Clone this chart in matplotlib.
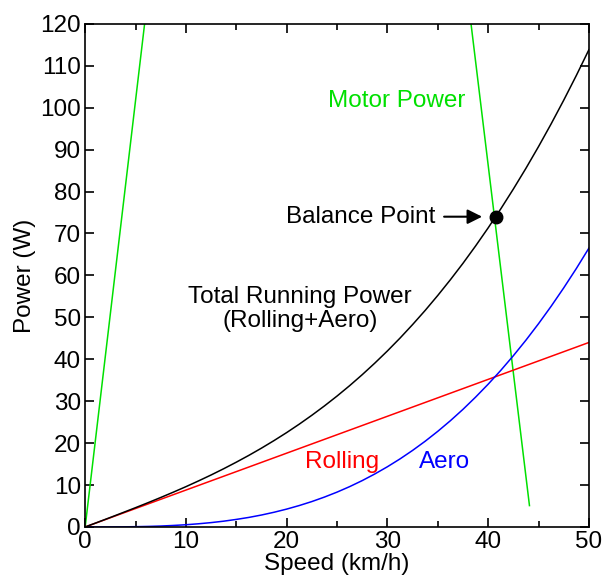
import numpy as np
import matplotlib
matplotlib.use("Agg")
import matplotlib.pyplot as plt
from matplotlib.ticker import MultipleLocator

plt.rcParams['font.family'] = ['Liberation Sans', 'DejaVu Sans']

# values (speed in km/h, power in W)
speed = [0, 1.25, 2.5, 3.75, 5, 6.25, 7.5, 8.75, 10, 11.25, 12.5, 13.75,
         15, 16.25, 17.5, 18.75, 20, 21.25, 22.5, 23.75, 25, 26.25, 27.5,
         28.75, 30, 31.25, 32.5, 33.75, 35, 36.25, 37.5, 38.75, 40, 41.25,
         42.5, 43.75, 45, 46.25, 47.5, 48.75, 50]
rolling = [0, 1.1, 2.2, 3.3, 4.4, 5.5, 6.6, 7.7, 8.8, 9.9, 11.0, 12.1,
           13.2, 14.3, 15.4, 16.5, 17.6, 18.7, 19.8, 20.9, 22.0, 23.1, 24.2,
           25.3, 26.4, 27.5, 28.6, 29.7, 30.8, 31.9, 33.0, 34.1, 35.2, 36.3,
           37.4, 38.5, 39.6, 40.7, 41.8, 42.9, 44.0]
aero = [0, 0.0, 0.01, 0.03, 0.07, 0.13, 0.22, 0.36, 0.53, 0.76, 1.04, 1.38,
        1.80, 2.28, 2.85, 3.51, 4.26, 5.11, 6.06, 7.13, 8.31, 9.62, 11.06,
        12.64, 14.36, 16.23, 18.26, 20.45, 22.81, 25.34, 28.05, 30.96,
        34.05, 37.34, 40.84, 44.55, 48.48, 52.63, 57.02, 61.63, 66.5]
total = [0, 1.13, 2.27, 3.43, 4.60, 5.80, 7.03, 8.30, 9.61, 10.98, 12.40,
         13.89, 15.45, 17.08, 18.80, 20.61, 22.51, 24.52, 26.64, 28.87,
         31.22, 33.70, 36.32, 39.08, 41.98, 45.04, 48.27, 51.65, 55.22,
         58.96, 62.88, 67.01, 71.33, 75.85, 80.59, 85.54, 90.72, 96.13,
         101.78, 107.67, 113.82]

motor_low_speed = [0, 5.9]
motor_low_power = [0, 120]
motor_high_speed = [38.3, 44.1]
motor_high_power = [120, 5.1]

balance_speed = 40.8
balance_power = 74

fs = 17.5

fig = plt.figure(figsize=(6.04, 5.81), dpi=100)
ax = fig.add_axes([0.141, 0.093, 0.834, 0.866])

ax.plot(motor_low_speed, motor_low_power, color='#00e000', lw=1.1)
ax.plot(motor_high_speed, motor_high_power, color='#00e000', lw=1.1)
ax.plot(speed, rolling, color='red', lw=1.1)
ax.plot(speed, aero, color='blue', lw=1.1)
ax.plot(speed, total, color='black', lw=1.1)
ax.plot([balance_speed], [balance_power], 'o', color='black', markersize=9)

ax.annotate('Balance Point', xy=(balance_speed - 1.4, balance_power),
            xytext=(34.8, balance_power), fontsize=fs,
            ha='right', va='center',
            arrowprops=dict(arrowstyle='-|>', color='black', lw=1.5,
                            mutation_scale=22, shrinkA=4, shrinkB=0))

ax.text(30.9, 101.5, 'Motor Power', color='#00e000', fontsize=fs,
        ha='center', va='center')
ax.text(21.3, 52, 'Total Running Power\n(Rolling+Aero)', color='black',
        fontsize=fs, ha='center', va='center', linespacing=1.1)
ax.text(25.5, 15.6, 'Rolling', color='red', fontsize=fs,
        ha='center', va='center')
ax.text(35.7, 15.6, 'Aero', color='blue', fontsize=fs,
        ha='center', va='center')

ax.set_xlim(0, 50)
ax.set_ylim(0, 120)
ax.xaxis.set_major_locator(MultipleLocator(10))
ax.xaxis.set_minor_locator(MultipleLocator(5))
ax.yaxis.set_major_locator(MultipleLocator(10))
ax.tick_params(which='both', direction='in', top=True, right=True,
               labelsize=fs, width=1.2)
ax.tick_params(which='major', length=6.5, pad=3)
ax.tick_params(which='minor', length=4)
for s in ax.spines.values():
    s.set_linewidth(1.2)

ax.set_xlabel('Speed (km/h)', fontsize=fs, labelpad=0)
ax.set_ylabel('Power (W)', fontsize=fs, labelpad=3)

fig.savefig('out.png', dpi=100)
